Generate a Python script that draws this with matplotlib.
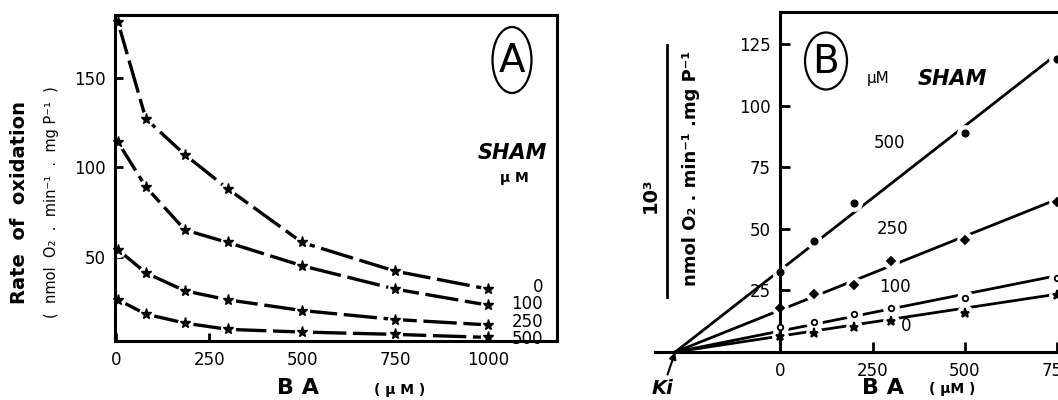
import matplotlib
matplotlib.use("Agg")
import numpy as np
import matplotlib.pyplot as plt
from matplotlib.patches import Ellipse

W, H = 1058, 400

# Panel A : rate of oxidation vs BA, one curve per SHAM level
ba_a = [5, 80, 185, 300, 500, 750, 1000]
rate_0 = [181, 127, 107, 88, 58, 42, 32]
rate_100 = [114, 89, 65, 58, 45, 32, 23]
rate_250 = [54, 41, 31, 26, 20, 15, 12]
rate_500 = [26, 18, 13, 9.5, 8, 6.7, 5]
sham_labels = ["0", "100", "250", "500"]
label_y_a = [33, 23.7, 13.7, 4.2]

# Panel B : 10^3 / rate vs BA
ba_b = [0, 90, 200, 300, 500, 750]
inv_0 = [6.5, 7.7, 10, 12.6, 15.8, 23]
inv_100 = [10, 12, 15.5, 18, 22, 30]
inv_250 = [18, 23.5, 27, 37, 45.5, 61]
inv_500 = [32.5, 45, 60.5, np.nan, 89, 119]
ki = -285
fit_x_end = 750
fit_y_end = [23.5, 31, 62, 121]   # 0, 100, 250, 500


def fx(x):
    return x / W


def fy(y):
    return 1 - y / H


fig = plt.figure(figsize=(W / 100, H / 100), dpi=100)
plt.rcParams['font.family'] = ['DejaVu Sans']

# ---------------- panel A ----------------
axA = fig.add_axes([fx(115), fy(341), fx(557) - fx(115), fy(15) - fy(341)])
for ys in [rate_0, rate_100, rate_250, rate_500]:
    axA.plot(ba_a, ys, color='black', lw=2.4, ls=(0, (10, 2)), solid_capstyle='butt')
    axA.plot(ba_a, ys, ls='none', marker='o', ms=10, mfc='white', mec='white', zorder=2.2)
    axA.plot(ba_a, ys, ls='none', marker='*', ms=8, color='black', zorder=4, clip_on=False)

axA.set_xlim(-3, 1185)
axA.set_ylim(3, 185)
axA.set_xticks([0, 250, 500, 750, 1000])
axA.set_yticks([50, 100, 150])
axA.tick_params(direction='in', length=6, width=2, labelsize=12, pad=7)
for s in axA.spines.values():
    s.set_linewidth(2.2)

for lab, y in zip(sham_labels, label_y_a):
    axA.text(1148, y, lab, ha='right', va='center', fontsize=12)
axA.text(1065, 108, "SHAM", ha='center', va='center', fontsize=15,
         fontweight='bold', style='italic')
axA.text(1070, 94, "µ M", ha='center', va='center', fontsize=10, fontweight='bold')

fig.text(fx(20), fy(202), "Rate  of  oxidation", rotation=90, ha='center', va='center',
         fontsize=14, fontweight='bold')
fig.text(fx(52), fy(202), "(  nmol  O₂  .  min⁻¹  .  mg P⁻¹  )", rotation=90,
         ha='center', va='center', fontsize=10.5)
fig.text(fx(298), fy(388), "B A", ha='center', va='center', fontsize=16, fontweight='bold')
fig.text(fx(400), fy(390), "( µ M )", ha='center', va='center', fontsize=10, fontweight='bold')

fig.patches.append(Ellipse((fx(512), fy(60)), 39 / W, 66 / H, transform=fig.transFigure,
                           fill=False, lw=1.6, ec='black'))
fig.text(fx(512), fy(61), "A", ha='center', va='center', fontsize=28)

# ---------------- panel B ----------------
axB = fig.add_axes([fx(655), fy(352), fx(1058) - fx(655), fy(12) - fy(352)])
series_b = [inv_0, inv_100, inv_250, inv_500]
markers = [('*', 6.5, 'black'), ('o', 4, 'white'), ('D', 4, 'black'), ('o', 4.5, 'black')]
for ys, ye, (m, ms, fc) in zip(series_b, fit_y_end, markers):
    axB.plot([ki, fit_x_end], [0, ye], color='black', lw=2.0)
    axB.plot(ba_b, ys, ls='none', marker='o', ms=11, mfc='white', mec='white', zorder=2.2)
    axB.plot(ba_b, ys, ls='none', marker=m, ms=ms, mfc=fc, mec='black', mew=1.3, zorder=4)

axB.set_xlim(-340, 752)
axB.set_ylim(0, 138)
axB.spines['left'].set_position(('data', 0))
axB.spines['right'].set_visible(False)
axB.spines['top'].set_bounds(0, 752)
for s in axB.spines.values():
    s.set_linewidth(2.2)
axB.set_xticks([0, 250, 500, 750])
axB.set_yticks([25, 50, 75, 100, 125])
axB.tick_params(direction='in', length=7, width=2, labelsize=12, pad=7)

axB.text(295, 85, "500", ha='center', va='center', fontsize=12)
axB.text(305, 50, "250", ha='center', va='center', fontsize=12)
axB.text(310, 26.5, "100", ha='center', va='center', fontsize=12)
axB.text(340, 10.5, "0", ha='center', va='center', fontsize=12)
axB.text(265, 111, "µM", ha='center', va='center', fontsize=11)
axB.text(465, 111, "SHAM", ha='center', va='center', fontsize=15,
         fontweight='bold', style='italic')

axB.annotate("Ki", xy=(ki, 0), xytext=(-9, -26), textcoords='offset points',
             ha='center', va='center', fontsize=14, fontweight='bold', style='italic',
             arrowprops=dict(arrowstyle='-|>', color='black', lw=1.5,
                             shrinkA=1, shrinkB=0, mutation_scale=10),
             annotation_clip=False)

fig.text(fx(650), fy(195), "10³", rotation=90, ha='center', va='center',
         fontsize=14, fontweight='bold')
fig.lines.append(plt.Line2D([fx(667), fx(667)], [fy(45), fy(297)], transform=fig.transFigure,
                            color='black', lw=2))
fig.text(fx(691), fy(168), "nmol O₂ . min⁻¹ .mg P⁻¹", rotation=90, ha='center',
         va='center', fontsize=13, fontweight='bold')
fig.text(fx(883), fy(388), "B A", ha='center', va='center', fontsize=16, fontweight='bold')
fig.text(fx(952), fy(389), "( µM )", ha='center', va='center', fontsize=10, fontweight='bold')

fig.patches.append(Ellipse((fx(826), fy(61)), 42 / W, 57 / H, transform=fig.transFigure,
                           fill=False, lw=1.6, ec='black'))
fig.text(fx(826), fy(62), "B", ha='center', va='center', fontsize=28)

fig.savefig("out.png", dpi=100)
